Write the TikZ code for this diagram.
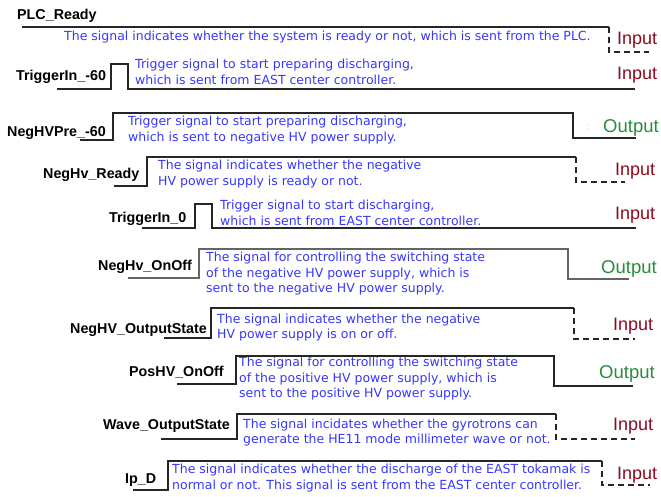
\documentclass[tikz,border=0pt]{standalone}
\usepackage{fontspec}
\setmainfont{Liberation Sans}
\newfontfamily\motafont{DejaVu Sans}
\definecolor{txtblue}{RGB}{55,55,250}
\definecolor{inred}{RGB}{140,10,30}
\definecolor{outgreen}{RGB}{40,140,60}
\definecolor{wavegray}{RGB}{100,100,100}
\tikzset{
  signame/.style={font=\fontsize{14.3}{16}\selectfont\bfseries, anchor=base west, inner sep=0pt},
  mota/.style={font=\motafont\fontsize{12.5}{15.5}\selectfont, text=txtblue, align=left, anchor=base west, inner sep=0pt},
  vao/.style={font=\fontsize{18}{20}\selectfont, text=inred, anchor=base west, inner sep=0pt},
  ra/.style={font=\fontsize{18.5}{20}\selectfont, text=outgreen, anchor=base west, inner sep=0pt},
  wave/.style={line width=1.2pt, draw=black!85},
  dwave/.style={wave, dash pattern=on 6pt off 4pt}
}
\begin{document}
\begin{tikzpicture}[x=1pt,y=-1pt]
			\useasboundingbox (0,0) rectangle (661,496);
			% PLC_Ready
			\node[signame] (tenPLC) at (17,19) {PLC\_Ready};
			\node[mota] (motaPLC) at (64,40.6) {The signal indicates whether the system is ready or not, which is sent from the PLC.};
			\node[vao] (vaoPLC) at (617,44.5) {Input};
			\draw[wave] (22,27) -- (609,27);
			\draw[dwave] (609,27) -- (609,52) -- (649,52);
			% TriggerIn_-60
			\node[signame] (tenTrig) at (16,80) {TriggerIn\_-60};
			\node[mota] (motaTrig) at (135,84.4) {Trigger signal to start preparing discharging,\\which is sent from EAST center controller.};
			\node[vao] (vaoTrig) at (617,79.5) {Input};
			\draw[wave] (57,89) -- (111,89) -- (111,64) -- (128,64) -- (128,89) -- (635,89);
			% NegHVPre_-60
			\node[signame] (tenPre) at (7,136) {NegHVPre\_-60};
			\node[mota] (motaPre) at (128,141.4) {Trigger signal to start preparing discharging,\\which is sent to negative HV power supply.};
			\node[ra] (raPre) at (603,132.5) {Output};
			\draw[wave] (80,140) -- (113,140) -- (113,113) -- (573,113) -- (573,138) -- (636,138);
			\draw[yellow!70!white, line width=0.8pt, dash pattern=on 2pt off 1.5pt] (587,124) -- (587,131);
			% NegHv_Ready
			\node[signame] (tenReady) at (43,178) {NegHv\_Ready};
			\node[mota] (motaReady) at (158,185.4) {The signal indicates whether the negative\\HV power supply is ready or not.};
			\node[vao] (vaoReady) at (615,175.5) {Input};
			\draw[wave] (114,186) -- (147,186) -- (147,157) -- (576,157);
			\draw[dwave] (576,157) -- (576,182) -- (625,182);
			% TriggerIn_0
			\node[signame] (tenTrig0) at (109,222) {TriggerIn\_0};
			\node[mota] (motaTrig0) at (220,225.4) {Trigger signal to start discharging,\\which is sent from EAST center controller.};
			\node[vao] (vaoTrig0) at (615,219.5) {Input};
			\draw[wave] (142,228) -- (195,228) -- (195,204) -- (212,204) -- (212,228) -- (636,228);
			% NegHv_OnOff
			\node[signame] (tenNegOn) at (98,270) {NegHv\_OnOff};
			\node[mota] (motaNegOn) at (206,292.6) {The signal for controlling the switching state\\of the negative HV power supply, which is\\sent to the negative HV power supply.};
			\node[ra] (raNegOn) at (601,273.5) {Output};
			\draw[wave, draw=wavegray] (128,278) -- (199,278) -- (199,249) -- (568,249) -- (568,279) -- (629,279);
			% NegHV_OutputState
			\node[signame] (tenNegSt) at (70,333) {NegHV\_OutputState};
			\node[mota] (motaNegSt) at (217,338.9) {The signal indicates whether the negative\\HV power supply is on or off.};
			\node[vao] (vaoNegSt) at (613,330.5) {Input};
			\draw[wave] (164,338) -- (211,338) -- (211,308) -- (574,308);
			\draw[dwave] (574,308) -- (574,339) -- (635,339);
			% PosHV_OnOff
			\node[signame] (tenPosOn) at (129,376) {PosHV\_OnOff};
			\node[mota] (motaPosOn) at (239,397.6) {The signal for controlling the switching state\\of the positive HV power supply, which is\\sent to the positive HV power supply.};
			\node[ra] (raPosOn) at (599,378.5) {Output};
			\draw[wave] (177,384) -- (236,384) -- (236,356) -- (554,356) -- (554,386) -- (633,386);
			% Wave_OutputState
			\node[signame] (tenWave) at (103,429) {Wave\_OutputState};
			\node[mota] (motaWave) at (243,443.9) {The signal incidates whether the gyrotrons can\\generate the HE11 mode millimeter wave or not.};
			\node[vao] (vaoWave) at (613,430.5) {Input};
			\draw[wave] (161,439) -- (237,439) -- (237,414) -- (556,414);
			\draw[dwave] (556,414) -- (556,439) -- (635,439);
			% Ip_D
			\node[signame] (tenIpD) at (125,483) {Ip\_D};
			\node[mota] (motaIpD) at (172,489.4) {The signal indicates whether the discharge of the EAST tokamak is\\normal or not. This signal is sent from the EAST center controller.};
			\node[vao] (vaoIpD) at (617,479.5) {Input};
			\draw[wave] (133,490) -- (168,490) -- (168,461) -- (602,461);
			\draw[dwave] (602,461) -- (602,485) -- (650,485);
\end{tikzpicture}
\end{document}
